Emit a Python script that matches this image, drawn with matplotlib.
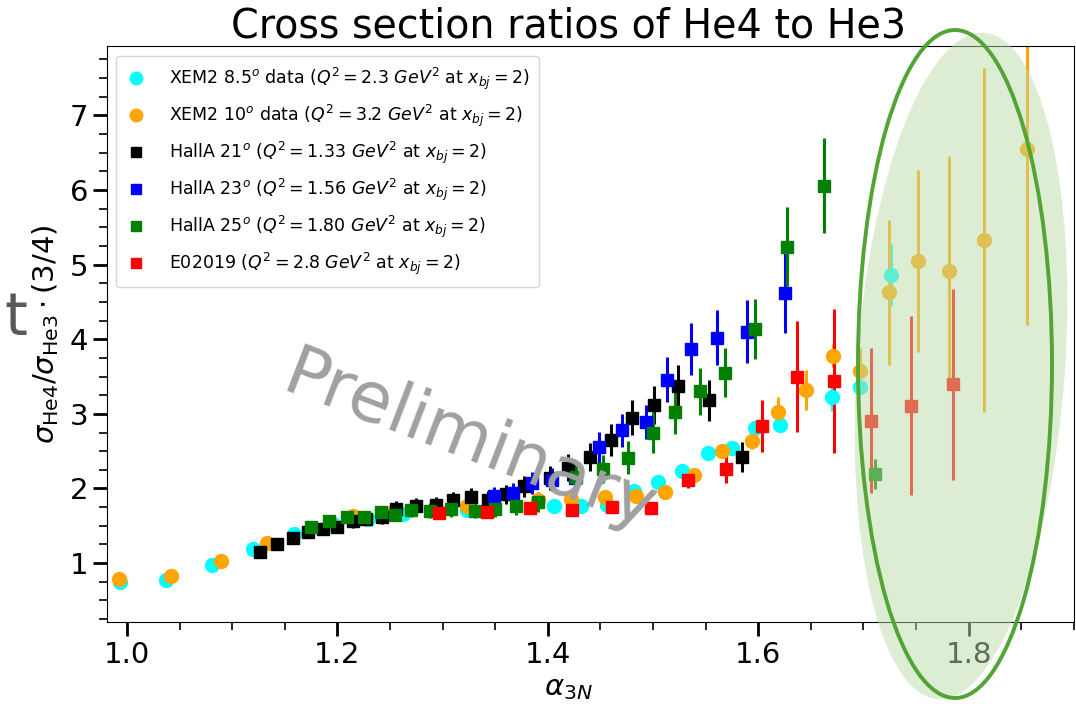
import matplotlib
matplotlib.use('Agg')
import matplotlib.pyplot as plt
from matplotlib.lines import Line2D
from matplotlib.patches import Ellipse
from matplotlib.ticker import MultipleLocator
from matplotlib.transforms import IdentityTransform

# XEM2 8.5 deg
xem85_x = [0.993, 1.037, 1.081, 1.120, 1.159, 1.196, 1.229, 1.262, 1.323, 1.406, 1.432,
           1.456, 1.482, 1.505, 1.528, 1.552, 1.575, 1.597, 1.621, 1.670, 1.697, 1.726]
xem85_y = [0.75, 0.78, 0.97, 1.19, 1.39, 1.53, 1.59, 1.66, 1.71, 1.76, 1.76,
           1.78, 1.96, 2.09, 2.23, 2.47, 2.54, 2.81, 2.85, 3.23, 3.36, 4.86]
xem85_e = [0.01, 0.01, 0.01, 0.02, 0.02, 0.02, 0.02, 0.02, 0.03, 0.03, 0.03,
           0.03, 0.04, 0.04, 0.05, 0.05, 0.06, 0.07, 0.08, 0.19, 0.06, 0.42]

# XEM2 10 deg
xem10_x = [0.992, 1.042, 1.089, 1.133, 1.215, 1.253, 1.323, 1.391, 1.422, 1.454, 1.484,
           1.511, 1.539, 1.566, 1.594, 1.619, 1.645, 1.671, 1.697, 1.724, 1.752, 1.781,
           1.815, 1.855]
xem10_y = [0.79, 0.83, 1.03, 1.27, 1.63, 1.69, 1.77, 1.84, 1.86, 1.88, 1.90,
           1.95, 2.18, 2.50, 2.63, 3.03, 3.32, 3.78, 3.58, 4.63, 5.05, 4.92,
           5.33, 6.55]
xem10_e = [0.01, 0.01, 0.02, 0.02, 0.02, 0.02, 0.03, 0.03, 0.03, 0.04, 0.04,
           0.05, 0.06, 0.08, 0.10, 0.20, 0.27, 0.15, 0.30, 0.97, 1.22, 1.53,
           2.30, 2.36]

# Hall A 21 deg
ha21_x = [1.126, 1.143, 1.158, 1.172, 1.186, 1.200, 1.215, 1.227, 1.242, 1.256, 1.275,
          1.294, 1.310, 1.327, 1.343, 1.360, 1.377, 1.402, 1.419, 1.440, 1.460, 1.480,
          1.501, 1.524, 1.553, 1.585]
ha21_y = [1.15, 1.25, 1.33, 1.41, 1.46, 1.49, 1.56, 1.59, 1.62, 1.73, 1.77,
          1.78, 1.84, 1.88, 1.85, 1.92, 2.03, 2.14, 2.28, 2.42, 2.65, 2.95,
          3.12, 3.37, 3.18, 2.42]
ha21_e = [0.05, 0.06, 0.07, 0.08, 0.08, 0.08, 0.09, 0.09, 0.09, 0.10, 0.10,
          0.10, 0.11, 0.12, 0.12, 0.13, 0.14, 0.16, 0.18, 0.19, 0.21, 0.23,
          0.26, 0.28, 0.28, 0.20]

# Hall A 23 deg
ha23_x = [1.349, 1.367, 1.385, 1.404, 1.426, 1.449, 1.471, 1.493, 1.513, 1.536, 1.561,
          1.589, 1.625]
ha23_y = [1.90, 1.94, 2.07, 2.12, 2.14, 2.55, 2.78, 2.89, 3.46, 3.87, 4.02,
          4.10, 4.62]
ha23_e = [0.12, 0.13, 0.15, 0.16, 0.17, 0.21, 0.22, 0.23, 0.30, 0.35, 0.37,
          0.42, 0.53]

# Hall A 25 deg
ha25_x = [1.175, 1.192, 1.209, 1.225, 1.241, 1.255, 1.270, 1.288, 1.308, 1.331, 1.350,
          1.370, 1.391, 1.427, 1.452, 1.476, 1.500, 1.521, 1.545, 1.568, 1.597, 1.627,
          1.663, 1.711]
ha25_y = [1.48, 1.57, 1.62, 1.62, 1.68, 1.65, 1.71, 1.70, 1.72, 1.70, 1.73,
          1.76, 1.82, 2.16, 2.26, 2.41, 2.75, 3.02, 3.30, 3.55, 4.14, 5.24,
          6.06, 2.19]
ha25_e = [0.08, 0.08, 0.08, 0.08, 0.09, 0.09, 0.09, 0.10, 0.10, 0.10, 0.11,
          0.12, 0.13, 0.18, 0.19, 0.22, 0.28, 0.29, 0.31, 0.33, 0.40, 0.53,
          0.64, 0.20]

# E02019
e02_x = [1.297, 1.342, 1.383, 1.423, 1.461, 1.498, 1.533, 1.569, 1.604, 1.637, 1.672,
         1.707, 1.745, 1.785]
e02_y = [1.67, 1.69, 1.74, 1.71, 1.75, 1.74, 2.12, 2.26, 2.84, 3.50, 3.44,
         2.91, 3.11, 3.40]
e02_e = [0.03, 0.03, 0.04, 0.04, 0.05, 0.05, 0.12, 0.19, 0.35, 0.74, 0.97,
         0.97, 1.20, 1.28]

labels = [
    r'XEM2 8.5$^o$ data ($Q^2 = 2.3\ GeV^2$ at $x_{bj} = 2$)',
    r'XEM2 10$^o$ data ($Q^2 = 3.2\ GeV^2$ at $x_{bj} = 2$)',
    r'HallA 21$^o$ ($Q^2 = 1.33\ GeV^2$ at $x_{bj} = 2$)',
    r'HallA 23$^o$ ($Q^2 = 1.56\ GeV^2$ at $x_{bj} = 2$)',
    r'HallA 25$^o$ ($Q^2 = 1.80\ GeV^2$ at $x_{bj} = 2$)',
    r'E02019 ($Q^2 = 2.8\ GeV^2$ at $x_{bj} = 2$)',
]

series = [
    (xem85_x, xem85_y, xem85_e, 'cyan', 'o'),
    (xem10_x, xem10_y, xem10_e, 'orange', 'o'),
    (ha21_x, ha21_y, ha21_e, 'black', 's'),
    (ha23_x, ha23_y, ha23_e, 'blue', 's'),
    (ha25_x, ha25_y, ha25_e, 'green', 's'),
    (e02_x, e02_y, e02_e, 'red', 's'),
]

fig = plt.figure(figsize=(10.76, 7.10), dpi=100)
ax = fig.add_axes([0.0994, 0.1239, 0.8986, 0.8113])

handles = []
for (x, y, e, c, m), lab in zip(series, labels):
    ms = 10 if m == 'o' else 8.8
    ax.errorbar(x, y, yerr=e, fmt=m, color=c, ms=ms, elinewidth=2.2, capsize=0)
    handles.append(Line2D([], [], ls='none', marker=m, color=c,
                          ms=9 if m == 'o' else 7.5))

ax.set_xlim(0.981, 1.90)
ax.set_ylim(0.21, 7.93)
ax.xaxis.set_major_locator(MultipleLocator(0.2))
ax.xaxis.set_minor_locator(MultipleLocator(0.05))
ax.yaxis.set_major_locator(MultipleLocator(1))
ax.yaxis.set_minor_locator(MultipleLocator(0.25))
ax.tick_params(which='major', length=10, width=2, labelsize=21)
ax.tick_params(which='minor', length=5.5, width=1.2)

ax.set_title('Cross section ratios of He4 to He3', fontsize=28.5, x=0.477, pad=3)
ax.set_xlabel(r'$\alpha_{3N}$', fontsize=21, x=0.477, labelpad=4)
ax.set_ylabel(r'$\sigma_{\mathrm{He4}}/\sigma_{\mathrm{He3}}\cdot(3/4)$', fontsize=21,
              labelpad=6)

ax.legend(handles, labels, loc='upper left', fontsize=12.5, labelspacing=0.62,
          handlelength=1.3, handletextpad=1.2, borderpad=0.55,
          bbox_to_anchor=(0.0, 0.998))

ax.text(1.325, 2.62, 'Preliminary', fontsize=50, color='#a0a0a0', rotation=-21,
        ha='center', va='center', zorder=10)

fig.text(0.004, 1 - 335 / 710, 't', fontsize=42, color='#595959', ha='left',
         va='baseline')

# highlighted high-alpha region, placed in pixels (origin at bottom left)
H = 710
fig.patches.append(Ellipse((961, H - 366), 208, 668, angle=-4,
                           transform=IdentityTransform(),
                           facecolor='#bddda9', edgecolor='none', alpha=0.5,
                           zorder=20))
fig.patches.append(Ellipse((955, H - 364), 194, 668,
                           transform=IdentityTransform(), facecolor='none',
                           edgecolor='#52a535', lw=2.8, zorder=21))

fig.savefig('out.png', dpi=100)
